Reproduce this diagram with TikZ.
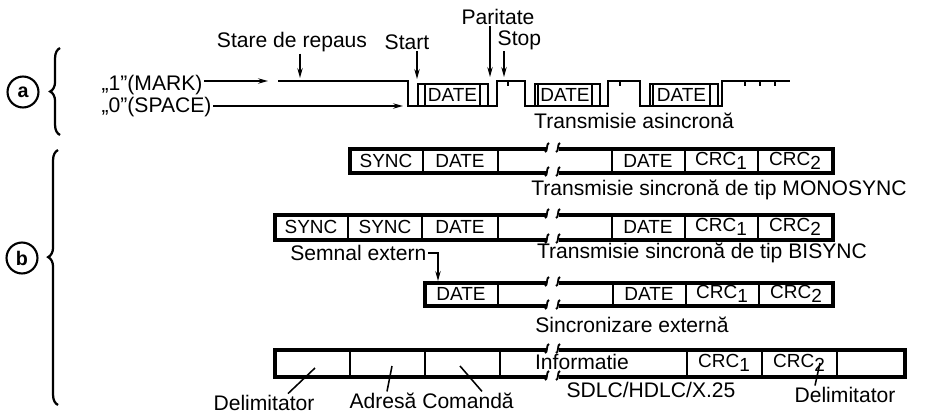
\documentclass[tikz,border=0pt]{standalone}
\usepackage{fontspec}
\setmainfont{Liberation Sans}
\usetikzlibrary{arrows.meta,decorations.pathreplacing}

\tikzset{
  lbl/.style={font=\fontsize{15}{17}\selectfont, inner sep=1pt},
  cell/.style={font=\fontsize{13.5}{15}\selectfont, inner sep=1pt},
  frm/.style={line width=2.2pt},
  divline/.style={line width=1.4pt},
  wave/.style={line width=1.8pt},
  thinw/.style={line width=1.1pt},
  ptr/.style={line width=1.1pt, -{Stealth[length=7pt,width=3.8pt]}},
  leader/.style={line width=1.1pt},
  tickw/.style={line width=1.2pt},
  brkline/.style={line width=1.3pt},
  tag/.style={circle, draw, line width=1.5pt, minimum size=22pt, inner sep=0pt,
    font=\fontsize{14}{16}\selectfont\bfseries}
}

% small break mark on a frame line
\newcommand{\cutmark}[2]{\draw[brkline] (#1-2,#2+3) .. controls (#1+1,#2+3) and (#1-1,#2-6) .. (#1+2,#2-6);}
% frame of one synchronous block, broken in the middle
\newcommand{\framerow}[4]{%
  \draw[frm] (546,#3) -- (#1,#3) -- (#1,#4) -- (546,#4);
  \draw[frm] (559,#3) -- (#2,#3) -- (#2,#4) -- (559,#4);
  \cutmark{547}{#3}\cutmark{558}{#3}\cutmark{547}{#4}\cutmark{558}{#4}}
\newcommand{\crc}[1]{CRC\raisebox{-0.35ex}{#1}}

\begin{document}
\begin{tikzpicture}[x=0.025cm, y=-0.025cm]
\useasboundingbox (0,0) rectangle (941,414);

% (a) asynchronous line
\node[tag] (circA) at (23,92) {a};
\draw[line width=1.6pt, decorate, decoration={brace, amplitude=7pt, aspect=0.5}] (60,135) -- (60,48);

\node[lbl, anchor=west] (lblMark) at (100,85) {„1”(MARK)};
\node[lbl, anchor=west] (lblSpace) at (100,107) {„0”(SPACE)};
\coordinate (markEnd) at (268,81);
\coordinate (spaceEnd) at (403,106);
\draw[ptr] (lblMark.east |- markEnd) -- (markEnd);
\draw[ptr] (lblSpace.east |- spaceEnd) -- (spaceEnd);

\draw[wave] (278,81) -- (408,81) -- (408,106) -- (497,106) -- (497,81) -- (525,81)
  -- (525,106) -- (608,106) -- (608,81) -- (640,81) -- (640,106) -- (722,106)
  -- (722,81) -- (790,81);
\foreach \s/\b in {418/425, 535/538, 650/653}
  \draw[thinw] (\s,106) -- (\s,84) -- (\b,84);
\foreach \l/\r/\p/\n in {425/480/488/1, 538/592/600/2, 653/710/718/3} {
  \draw[wave] (\l,84) rectangle (\r,106);
  \draw[wave] (\r,84) rectangle (\p,106);
  \node[cell] (date\n) at ({(\l+\r)/2},95) {DATE};
}
\foreach \t in {508, 620, 745, 760, 775}
  \draw[tickw] (\t,81) -- (\t,86);

\node[lbl] (lblRepaus) at (292,42) {Stare de repaus};
\node[lbl] (lblStart) at (407,42) {Start};
\node[lbl] (lblParitate) at (498,17) {Paritate};
\node[lbl, anchor=west] (lblStop) at (496,40) {Stop};
\coordinate (repausPt) at (300,78);
\coordinate (startPt) at (417,79);
\coordinate (parPt) at (490,77);
\coordinate (stopPt) at (504,77);
\draw[ptr] (lblRepaus.south -| repausPt) -- (repausPt);
\draw[ptr] (lblStart.south -| startPt) -- (startPt);
\draw[ptr] (lblParitate.south -| parPt) -- (parPt);
\draw[ptr] (lblStop.south -| stopPt) -- (stopPt);

\node[lbl] (lblAsync) at (634,121) {Transmisie asincronă};

% (b) synchronous blocks
\node[tag] (circB) at (22,258) {b};
\draw[line width=1.6pt, decorate, decoration={brace, amplitude=7pt, aspect=0.58}] (58,405) -- (58,150);

% MONOSYNC
\framerow{350}{833}{149}{173}
\foreach \x in {423,498,612,685,758} \draw[divline] (\x,149) -- (\x,173);
\node[cell] (mSync) at (386,161) {SYNC};
\node[cell] (mDateA) at (460,161) {DATE};
\node[cell] (mDateB) at (648,161) {DATE};
\node[cell] (mCrcA) at (721,161) {\crc{1}};
\node[cell] (mCrcB) at (795,161) {\crc{2}};
\node[lbl] (lblMono) at (719,190) {Transmisie sincronă de tip MONOSYNC};

% BISYNC
\framerow{275}{833}{215}{240}
\foreach \x in {348,422,498,612,685,758} \draw[divline] (\x,215) -- (\x,240);
\node[cell] (bSyncA) at (311,227) {SYNC};
\node[cell] (bSyncB) at (385,227) {SYNC};
\node[cell] (bDateA) at (460,227) {DATE};
\node[cell] (bDateB) at (648,227) {DATE};
\node[cell] (bCrcA) at (721,227) {\crc{1}};
\node[cell] (bCrcB) at (795,227) {\crc{2}};
\node[lbl] (lblBi) at (702,253) {Transmisie sincronă de tip BISYNC};
\node[lbl, anchor=east] (lblExtern) at (428,253) {Semnal extern};
\coordinate (externPt) at (438,281);
\draw[ptr] (lblExtern.east) -| (externPt);

% external sync
\framerow{425}{833}{283}{306}
\foreach \x in {498,613,686,759} \draw[divline] (\x,283) -- (\x,306);
\node[cell] (eDateA) at (461,294) {DATE};
\node[cell] (eDateB) at (649,294) {DATE};
\node[cell] (eCrcA) at (722,294) {\crc{1}};
\node[cell] (eCrcB) at (796,294) {\crc{2}};
\node[lbl] (lblExt) at (632,325) {Sincronizare externă};

% SDLC / HDLC
\framerow{275}{905}{350}{377}
\foreach \x in {350,425,500,687,762,837} \draw[divline] (\x,350) -- (\x,377);
\node[lbl] (sInfo) at (582,362) {Informatie};
\node[cell] (sCrcA) at (724,363) {\crc{1}};
\node[cell] (sCrcB) at (799,363) {\crc{2}};
\node[lbl] (lblSdlc) at (651,390) {SDLC/HDLC/X.25};

\node[lbl] (lblDelimA) at (264,403) {Delimitator};
\node[lbl] (lblAdresa) at (383,401) {Adresă};
\node[lbl] (lblComanda) at (468,401) {Comandă};
\node[lbl] (lblDelimB) at (845,395) {Delimitator};
\coordinate (delimAPt) at (315,368);
\coordinate (adresaPt) at (392,366);
\coordinate (comandaPt) at (460,366);
\coordinate (delimBPt) at (820,363);
\draw[leader] ([xshift=0.6cm]lblDelimA.north) -- (delimAPt);
\draw[leader] ([xshift=0.1cm]lblAdresa.north) -- (adresaPt);
\draw[leader] ([xshift=0.35cm]lblComanda.north) -- (comandaPt);
\draw[leader] ([xshift=-0.75cm]lblDelimB.north) -- (delimBPt);
\end{tikzpicture}
\end{document}
